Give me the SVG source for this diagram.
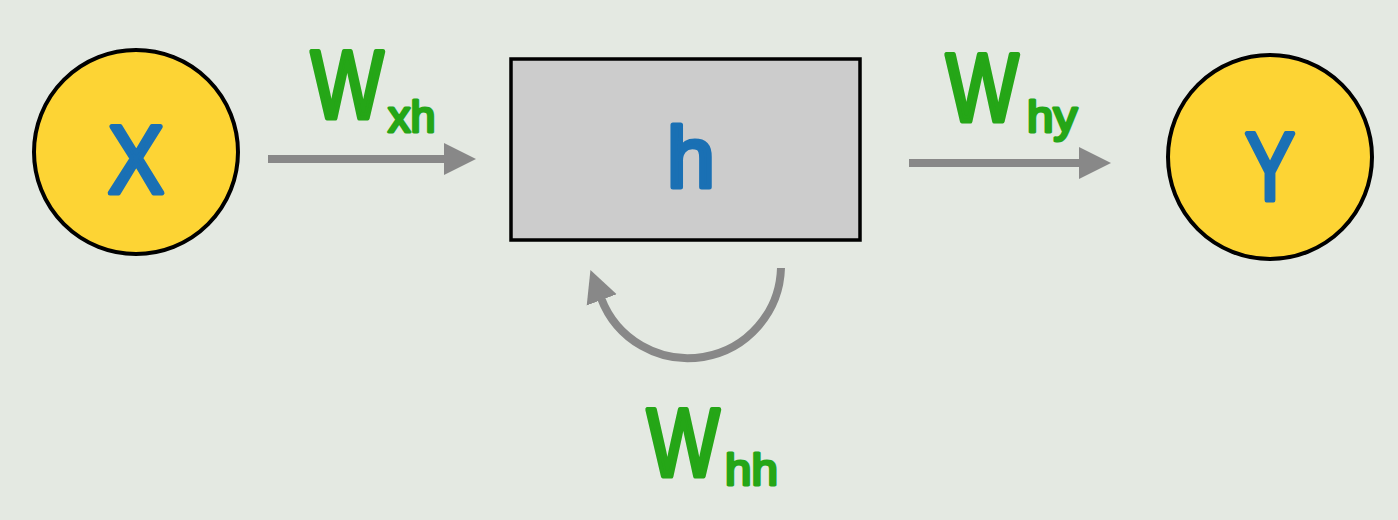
<svg xmlns="http://www.w3.org/2000/svg" width="1398" height="520" viewBox="0 0 1398 520">
<defs>
<style>
.node{fill:#fdd434;stroke:#000;stroke-width:4}
.lbl{font-family:"Liberation Sans",Arial,sans-serif;font-weight:normal;fill:#1a70b4;text-anchor:middle;stroke:#1a70b4;stroke-width:5;stroke-linejoin:round;stroke-linecap:round}
.w{font-family:"Liberation Sans",Arial,sans-serif;font-weight:normal;font-size:96px;fill:#25a617;stroke:#25a617;stroke-width:5;stroke-linejoin:round;stroke-linecap:round}
.sub{font-family:"Liberation Sans",Arial,sans-serif;font-weight:normal;font-size:44px;fill:#25a617;stroke:#25a617;stroke-width:3;stroke-linejoin:round;stroke-linecap:round}
.conn{stroke:#888;stroke-width:8;fill:none}
</style>
<marker id="ah" markerUnits="userSpaceOnUse" markerWidth="34" markerHeight="34" refX="2" refY="16" orient="auto" viewBox="0 0 34 32">
<path d="M0,0 L32,16 L0,32 Z" fill="#888"/>
</marker>
</defs>
<rect width="1398" height="520" fill="#e4e9e2"/>
<g id="node-x">
<circle class="node" cx="136" cy="152" r="102"/>
<text class="lbl" x="136" y="193" font-size="96" textLength="56" lengthAdjust="spacingAndGlyphs">X</text>
</g>
<g id="node-h">
<rect x="511" y="59" width="349" height="181" fill="#cccccc" stroke="#000" stroke-width="3.5"/>
<text class="lbl" x="691" y="187" font-size="86">h</text>
</g>
<g id="node-y">
<circle class="node" cx="1270" cy="157" r="102"/>
<text class="lbl" x="1270" y="200" font-size="96" textLength="50" lengthAdjust="spacingAndGlyphs">Y</text>
</g>
<g id="connectors">
<line class="conn" x1="268" y1="159" x2="446" y2="159" marker-end="url(#ah)"/>
<line class="conn" x1="909" y1="163" x2="1081" y2="163" marker-end="url(#ah)"/>
<path class="conn" d="M781,268 A93,93 0 0 1 601,298" marker-end="url(#ah)"/>
</g>
<g id="labels">
<text class="w" transform="translate(311,118) scale(0.8,1)">W</text>
<text class="sub" transform="translate(388,132) scale(1.02,1)">xh</text>
<text class="w" transform="translate(946,121) scale(0.8,1)">W</text>
<text class="sub" transform="translate(1027,132) scale(1.08,1)">hy</text>
<text class="w" transform="translate(647,476) scale(0.8,1)">W</text>
<text class="sub" transform="translate(725,485) scale(1.08,1)">hh</text>
</g>
</svg>
